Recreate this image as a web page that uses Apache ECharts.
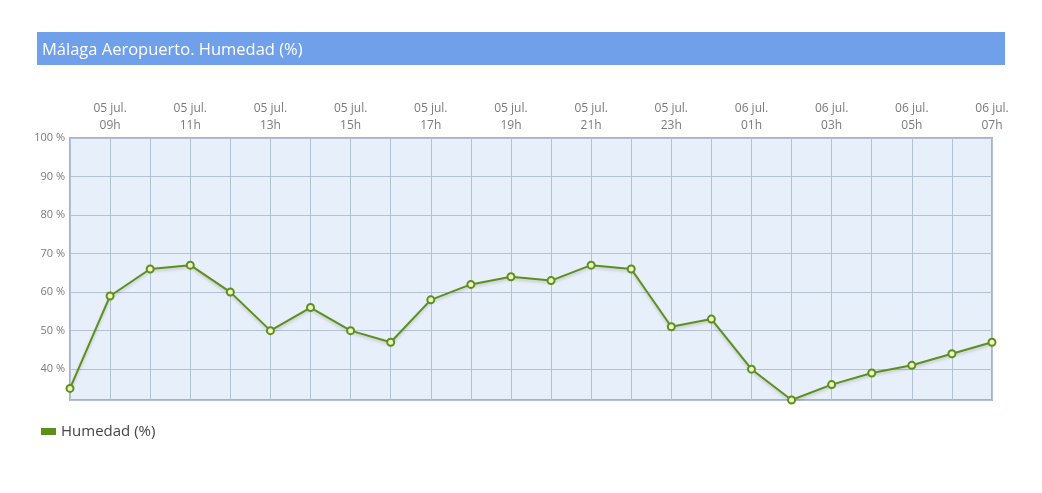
<!DOCTYPE html>
<html>
<head>
<meta charset="utf-8">
<script src="https://cdn.jsdelivr.net/npm/echarts@6/dist/echarts.min.js"></script>
<style>
  html, body { margin: 0; padding: 0; background: #fff; }
  #chart { width: 1042px; height: 493px; }
</style>
</head>
<body>
<div id="chart"></div>
<script>
// categorías horarias (05 jul. 08h -> 06 jul. 07h)
var categories = [
  "05 jul.\n08h", "05 jul.\n09h", "05 jul.\n10h", "05 jul.\n11h", "05 jul.\n12h",
  "05 jul.\n13h", "05 jul.\n14h", "05 jul.\n15h", "05 jul.\n16h", "05 jul.\n17h",
  "05 jul.\n18h", "05 jul.\n19h", "05 jul.\n20h", "05 jul.\n21h", "05 jul.\n22h",
  "05 jul.\n23h", "06 jul.\n00h", "06 jul.\n01h", "06 jul.\n02h", "06 jul.\n03h",
  "06 jul.\n04h", "06 jul.\n05h", "06 jul.\n06h", "06 jul.\n07h"
];
var humedad = [35, 59, 66, 67, 60, 50, 56, 50, 47, 58, 62, 64, 63, 67, 66, 51, 53, 40, 32, 36, 39, 41, 44, 47];
var yMin = 32;
var yMax = 100;

var chart = echarts.init(document.getElementById("chart"));
var green = "#5f8f1b";
var option = {
  backgroundColor: "#fff",
  animation: false,
  graphic: [
    {
      type: "rect",
      shape: { x: 37, y: 32, width: 968, height: 33 },
      style: { fill: "#70a0ea" },
      z: 0
    }
  ],
  title: {
    text: "Málaga Aeropuerto. Humedad (%)",
    left: 37,
    top: 37,
    textStyle: {
      color: "#fff",
      fontSize: 16.5,
      fontWeight: "normal",
      fontFamily: "Open Sans"
    }
  },
  legend: {
    left: 36,
    top: 419,
    icon: "rect",
    itemWidth: 15,
    itemHeight: 7,
    itemGap: 4,
    itemStyle: { color: green, borderWidth: 0 },
    textStyle: { color: "#444", fontSize: 15, fontFamily: "Open Sans" },
    data: ["Humedad (%)"]
  },
  grid: {
    left: 70,
    right: 50,
    top: 138,
    bottom: 93,
    show: true,
    backgroundColor: "#e7effa",
    borderColor: "#9db5d4",
    borderWidth: 2
  },
  xAxis: {
    type: "category",
    position: "top",
    boundaryGap: false,
    data: categories,
    axisLine: { show: false },
    axisTick: { show: false },
    axisLabel: {
      interval: function (i) { return i % 2 === 1; },
      color: "#7a7a7a",
      fontSize: 12,
      lineHeight: 17,
      margin: 4,
      fontFamily: "Open Sans"
    },
    splitLine: {
      show: true,
      interval: 0,
      lineStyle: { color: "#b3c0d6", width: 1 }
    }
  },
  yAxis: {
    type: "value",
    min: yMin,
    max: yMax,
    axisLine: { show: false },
    axisTick: { show: false },
    axisLabel: {
      formatter: "{value} %",
      showMinLabel: false,
      color: "#7a7a7a",
      fontSize: 11,
      margin: 5,
      fontFamily: "Open Sans"
    },
    splitLine: { lineStyle: { color: "#b3c0d6", width: 1 } }
  },
  series: [
    {
      name: "Humedad (%)",
      type: "line",
      data: humedad,
      color: green,
      symbol: "circle",
      symbolSize: 7,
      lineStyle: {
        color: green,
        width: 2,
        shadowColor: "rgba(0,0,0,0.18)",
        shadowBlur: 3,
        shadowOffsetY: 2
      },
      itemStyle: {
        color: "#eef4c4",
        borderColor: green,
        borderWidth: 2
      }
    }
  ]
};
chart.setOption(option);
</script>
</body>
</html>
